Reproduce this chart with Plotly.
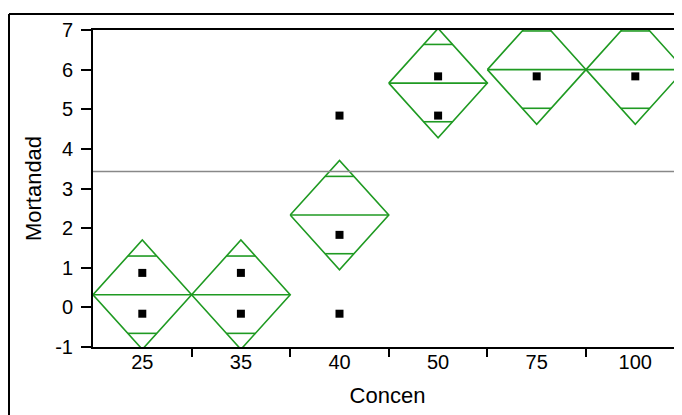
import numpy as np
import plotly.graph_objects as go

# ---- data ----
categories = ["25", "35", "40", "50", "75", "100"]
group_means = [0.32, 0.32, 2.33, 5.66, 6.0, 6.0]
ci_half = [1.38, 1.38, 1.38, 1.38, 1.38, 1.38]
points_cat = ["25", "25", "35", "35", "40", "40", "40", "50", "50", "75", "100"]
points_y = [0.87, -0.16, 0.87, -0.16, 4.84, 1.83, -0.16, 5.83, 4.84, 5.83, 5.83]
grand_mean = 3.43
y_ticks = [-1, 0, 1, 2, 3, 4, 5, 6, 7]
y_tick_text = ["-1", "0", "1", "2", "3", "4", "5", "6", "7"]

GREEN = "#1F9A22"
FONT = "Liberation Sans, Arial, sans-serif"

# page body has an 8px default margin; the figure is sized to end at the window edge
OFF = 8
W, H = 682 - OFF, 415 - OFF
ML, MR, MT, MB = 93 - OFF, 0, 30 - OFF, 68
pw, ph = W - ML - MR, H - MT - MB

idx = {c: i for i, c in enumerate(categories)}
fig = go.Figure()

# means diamonds
for i, (m, h) in enumerate(zip(group_means, ci_half)):
    fig.add_trace(go.Scatter(
        x=[i - 0.5, i, i + 0.5, i, i - 0.5], y=[m, m + h, m, m - h, m],
        mode="lines", line=dict(color=GREEN, width=1.6), hoverinfo="skip", showlegend=False))
    fig.add_trace(go.Scatter(
        x=[i - 0.5, i + 0.5], y=[m, m], mode="lines",
        line=dict(color=GREEN, width=1.6), hoverinfo="skip", showlegend=False))
    off = h / np.sqrt(2)
    hw = 0.5 * (1 - off / h)
    for s in (1, -1):
        fig.add_trace(go.Scatter(
            x=[i - hw, i + hw], y=[m + s * off, m + s * off], mode="lines",
            line=dict(color=GREEN, width=1.6), hoverinfo="skip", showlegend=False))

# grand mean line
fig.add_trace(go.Scatter(x=[-0.5, len(categories) - 0.5], y=[grand_mean, grand_mean],
                         mode="lines", line=dict(color="#888888", width=1.6),
                         hoverinfo="skip", showlegend=False))

# points
fig.add_trace(go.Scatter(x=[idx[c] for c in points_cat], y=points_y, mode="markers",
                         marker=dict(symbol="square", size=8, color="black"),
                         showlegend=False))

x_right = -0.5 + pw / 98.6

fig.update_layout(
    width=W, height=H, margin=dict(l=ML, r=MR, t=MT, b=MB, autoexpand=False),
    paper_bgcolor="white", plot_bgcolor="white",
    font=dict(family=FONT, size=20, color="black"),
    xaxis=dict(range=[-0.5, x_right], tickvals=list(range(len(categories))), ticktext=categories,
               ticks="", showgrid=False, zeroline=False, showline=True, linecolor="black",
               linewidth=2, mirror=True, automargin=False, ticklabelstandoff=-4,
               minor=dict(tickvals=[i + 0.5 for i in range(len(categories) - 1)], ticks="outside",
                          ticklen=8, tickwidth=2, tickcolor="black", showgrid=False),
               title=dict(text="Concen", font=dict(size=22), standoff=16),
               tickfont=dict(size=20)),
    yaxis=dict(range=[-1, 7], tickvals=y_ticks, ticktext=y_tick_text, ticks="outside",
               ticklen=10, tickwidth=2, automargin=False,
               tickcolor="black", showgrid=False, zeroline=False, showline=True,
               linecolor="black", linewidth=2, ticklabelstandoff=4,
               title=dict(text="Mortandad", font=dict(size=22), standoff=8),
               tickfont=dict(size=20)),
)

# outer frame (cropped window border)
fx = (9 - OFF - ML) / pw
fy = 1 + (MT - (14 - OFF)) / ph
fb = -MB / ph
fig.add_shape(type="line", xref="paper", yref="paper", x0=fx, y0=fy, x1=1.01, y1=fy,
              line=dict(color="black", width=2))
fig.add_shape(type="line", xref="paper", yref="paper", x0=fx, y0=fy, x1=fx, y1=fb,
              line=dict(color="black", width=2))

fig.write_html("out.html")
